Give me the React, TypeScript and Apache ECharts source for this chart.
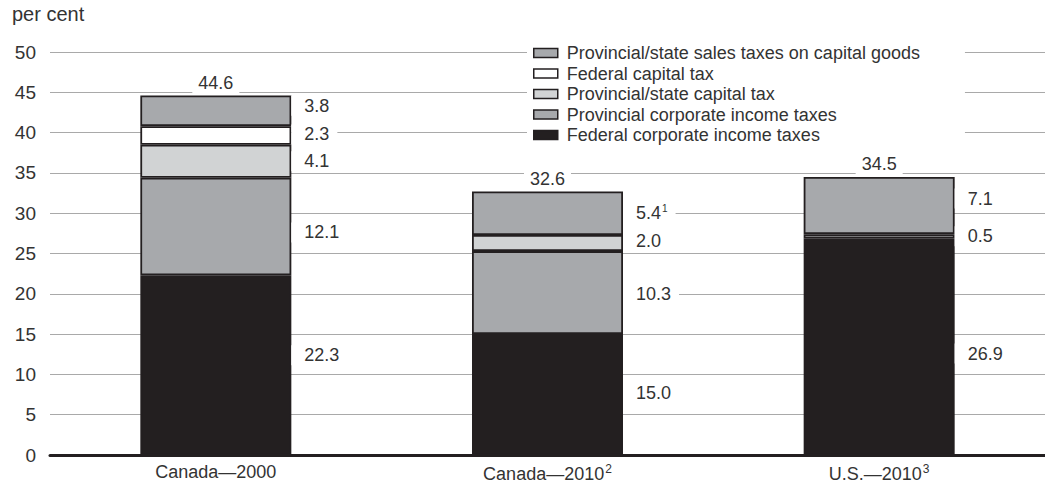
import React, { useEffect, useRef } from "react";
import * as echarts from "echarts";

const categories = ["Canada—2000", "Canada—2010", "U.S.—2010"];
const categoryNotes = ["", "2", "3"];
const federalCorporate = [22.3, 15.0, 26.9];
const provincialCorporate = [12.1, 10.3, 0];
const provincialCapital = [4.1, 2.0, 0.5];
const federalCapital = [2.3, 0, 0];
const salesTaxes = [3.8, 5.4, 7.1];
const salesNotes = ["", "1", ""];
const totals = [44.6, 32.6, 34.5];

// label vertical nudges (px), style only
const shiftFedCorp = [-10, -2, 7];
const shiftProvCorp = [6, 1, 0];
const shiftProvCap = [0, -2, 0];
const shiftFedCap = [-1, 0, 0];
const shiftSales = [-5, 0, -7];

const FONT = "'Liberation Sans', Arial, Helvetica, sans-serif";
const TXT = "#333333";
const BLACK = "#231f20";
const GREY = "#a7a9ac";
const LIGHT = "#d1d3d4";

function makeData(values: number[], shifts: number[], notes?: string[]) {
  return values.map((v, i) => ({
    value: v,
    itemStyle: v > 0 ? undefined : { borderWidth: 0 },
    label: {
      show: v > 0,
      offset: [0, shifts[i]],
      formatter: () =>
        notes && notes[i] ? `{v|${v.toFixed(1)}}{s|${notes[i]}}` : `{v|${v.toFixed(1)}}`,
    },
  }));
}

const segLabel = {
  position: "right",
  distance: 0,
  backgroundColor: "#fff",
  padding: [1, 8, 1, 13],
  rich: {
    v: { fontSize: 18, color: TXT, fontFamily: FONT },
    s: { fontSize: 10, color: TXT, fontFamily: FONT, padding: [0, 0, 9, 1] },
  },
};

function barSeries(name: string, color: string, data: any[]) {
  return {
    name,
    type: "bar",
    stack: "total",
    barWidth: 151,
    data,
    itemStyle: { color, borderColor: BLACK, borderWidth: 1.8 },
    label: segLabel,
    emphasis: { disabled: true },
  };
}

export default function App() {
  const ref = useRef<HTMLDivElement>(null);
  useEffect(() => {
    if (!ref.current) return;
    const chart = echarts.init(ref.current, null, { renderer: "svg" });
    chart.setOption({
      animation: false,
      backgroundColor: "#fff",
      textStyle: { fontFamily: FONT },
      grid: { left: 50, right: 0, top: 52, bottom: 31, containLabel: false },
      graphic: [
        {
          type: "text",
          left: 12,
          top: 4,
          style: { text: "per cent", fontSize: 20, fill: TXT, fontFamily: FONT },
        },
      ],
      legend: {
        orient: "vertical",
        left: 527,
        top: 42,
        backgroundColor: "#fff",
        padding: [2, 45, 3, 6],
        itemWidth: 24,
        itemHeight: 9,
        itemGap: 2.5,
        icon: "rect",
        selectedMode: false,
        itemStyle: { borderColor: BLACK, borderWidth: 1.5 },
        textStyle: { fontSize: 18, color: TXT, fontFamily: FONT, lineHeight: 18, padding: [0, 0, 0, 4] },
        data: [
          "Provincial/state sales taxes on capital goods",
          "Federal capital tax",
          "Provincial/state capital tax",
          "Provincial corporate income taxes",
          "Federal corporate income taxes",
        ],
      },
      xAxis: {
        type: "category",
        data: categories,
        axisTick: { show: false },
        axisLine: { lineStyle: { color: BLACK, width: 3 } },
        axisLabel: {
          margin: 8,
          formatter: (val: string, i: number) =>
            categoryNotes[i] ? `{c|${val}}{s|${categoryNotes[i]}}` : `{c|${val}}`,
          rich: {
            c: { fontSize: 18, color: TXT, fontFamily: FONT },
            s: { fontSize: 12, color: TXT, fontFamily: FONT, padding: [0, 0, 9, 1] },
          },
        },
      },
      yAxis: {
        type: "value",
        min: 0,
        max: 50,
        interval: 5,
        axisLine: { show: false },
        axisTick: { show: false },
        axisLabel: { fontSize: 19, color: TXT, fontFamily: FONT, margin: 14 },
        splitLine: { lineStyle: { color: "#a9a9a9", width: 1 } },
      },
      series: [
        barSeries("Federal corporate income taxes", BLACK, makeData(federalCorporate, shiftFedCorp)),
        barSeries("Provincial corporate income taxes", GREY, makeData(provincialCorporate, shiftProvCorp)),
        barSeries("Provincial/state capital tax", LIGHT, makeData(provincialCapital, shiftProvCap)),
        barSeries("Federal capital tax", "#ffffff", makeData(federalCapital, shiftFedCap)),
        barSeries(
          "Provincial/state sales taxes on capital goods",
          GREY,
          makeData(salesTaxes, shiftSales, salesNotes)
        ),
        {
          name: "Total",
          type: "scatter",
          data: totals,
          symbolSize: 0,
          z: 5,
          itemStyle: { opacity: 1 },
          label: {
            show: true,
            position: "top",
            distance: 2,
            backgroundColor: "#fff",
            padding: [2, 6, 2, 6],
            fontSize: 18,
            color: TXT,
            fontFamily: FONT,
            formatter: (p: any) => Number(p.value).toFixed(1),
          },
          emphasis: { disabled: true },
        },
      ],
    });
    return () => chart.dispose();
  }, []);
  return (
    <div
      ref={ref}
      style={{ position: "absolute", left: 0, top: 0, width: 1045, height: 486 }}
    />
  );
}
